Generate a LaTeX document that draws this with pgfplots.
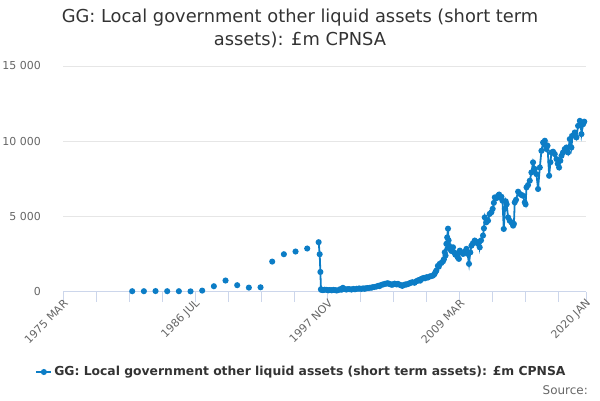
\documentclass[border=0pt]{standalone}
\usepackage{pgfplots}
\pgfplotsset{compat=1.18}
\usepackage{fontspec}
\setmainfont{DejaVu Sans}
\definecolor{series}{HTML}{0C7DC6}
\definecolor{axisc}{HTML}{CCD6EB}
\definecolor{gridc}{HTML}{E6E6E6}
\definecolor{labc}{HTML}{666666}
\definecolor{titc}{HTML}{333333}

\pgfplotstableread{
x y
1981.1 20
1981.5 nan
1982.1 20
1982.5 nan
1983.1 30
1983.5 nan
1984.1 20
1984.5 nan
1985.1 20
1985.5 nan
1986.1 10
1986.5 nan
1987.1 60
1987.5 nan
1988.1 350
1988.5 nan
1989.1 730
1989.5 nan
1990.1 420
1990.5 nan
1991.1 260
1991.5 nan
1992.1 280
1992.5 nan
1993.1 1990
1993.5 nan
1994.1 2480
1994.5 nan
1995.1 2660
1995.5 nan
1996.1 2860
1996.5 nan
1997.08 3280
1997.17 2480
1997.23 1300
1997.28 150
1997.31 110
1997.45 90
1997.6 120
1997.77 110
1997.9 80
1998.05 100
1998.2 80
1998.35 110
1998.5 90
1998.63 66
1998.8 100
1998.95 160
1999.05 120
1999.16 245
1999.3 170
1999.45 130
1999.6 160
1999.74 155
1999.9 130
2000.05 170
2000.2 150
2000.35 180
2000.5 190
2000.6 200
2000.75 170
2000.9 210
2001.03 180
2001.15 220
2001.3 230
2001.46 245
2001.6 260
2001.7 280
2001.85 300
2002.03 330
2002.2 380
2002.3 360
2002.46 440
2002.6 470
2002.74 500
2002.88 530
2003.02 550
2003.15 500
2003.25 480
2003.35 450
2003.45 465
2003.58 520
2003.68 500
2003.78 470
2003.88 510
2004.02 450
2004.17 400
2004.27 380
2004.37 430
2004.5 470
2004.6 465
2004.75 500
2004.88 550
2005.0 590
2005.14 620
2005.3 580
2005.46 685
2005.56 720
2005.66 760
2005.78 720
2005.89 840
2006.0 870
2006.09 900
2006.2 880
2006.32 950
2006.45 930
2006.6 1000
2006.75 1030
2006.88 1060
2007.0 1150
2007.1 1300
2007.17 1390
2007.3 1700
2007.38 1650
2007.46 1840
2007.6 1900
2007.74 2010
2007.82 2150
2007.89 2610
2007.96 2400
2008.03 3170
2008.1 3600
2008.17 4180
2008.22 3400
2008.26 3050
2008.32 2835
2008.45 2700
2008.6 2940
2008.7 2600
2008.8 2450
2008.89 2500
2009.0 2280
2009.1 2170
2009.18 2720
2009.3 2600
2009.46 2500
2009.6 2650
2009.75 2835
2009.85 2500
2009.97 1840
2010.08 2600
2010.18 3050
2010.3 3200
2010.46 3390
2010.6 3300
2010.74 3170
2010.85 3300
2010.89 2940
2011.0 3400
2011.17 3720
2011.25 4200
2011.32 4930
2011.45 4600
2011.6 4710
2011.74 5160
2011.89 5270
2012.0 5500
2012.1 5900
2012.18 6260
2012.3 6200
2012.46 6370
2012.55 6450
2012.61 6260
2012.75 6300
2012.84 6040
2012.95 4160
2013.05 5500
2013.12 6000
2013.2 5800
2013.32 4930
2013.46 4710
2013.6 4600
2013.75 4380
2013.82 4500
2013.89 5930
2014.0 6100
2014.18 6640
2014.32 6490
2014.47 6420
2014.6 6370
2014.75 5930
2014.82 5800
2014.9 6930
2015.03 7080
2015.18 7370
2015.32 7920
2015.46 8590
2015.61 8150
2015.75 7810
2015.89 6820
2016.04 8250
2016.18 9360
2016.32 9910
2016.47 10030
2016.55 9700
2016.61 9480
2016.7 9700
2016.84 7700
2016.95 8600
2017.04 9250
2017.18 9300
2017.32 9140
2017.47 8810
2017.58 8500
2017.69 8250
2017.8 8700
2017.9 9030
2018.03 9250
2018.18 9480
2018.33 9580
2018.46 9250
2018.61 10140
2018.75 9580
2018.84 10360
2019.04 10580
2019.18 10250
2019.32 11020
2019.47 11350
2019.55 11100
2019.61 10470
2019.75 11130
2019.85 11300
}\datatable

\begin{document}
\begin{tikzpicture}[x=1bp,y=1bp]
\useasboundingbox (0,0) rectangle (600,400);
\node[text=titc, font=\fontsize{17.9}{23}\selectfont, align=center] at (300,371.5)
  {GG: Local government other liquid assets (short term\\assets): £m CPNSA};
\begin{axis}[
  at={(63bp,108.5bp)}, anchor=south west,
  scale only axis, width=523bp, height=225.5bp,
  xmin=1975.1667, xmax=2020, ymin=0, ymax=15000,
  scaled y ticks=false,
  axis x line=bottom, axis y line=left,
  x axis line style={draw=axisc, line width=1bp, -},
  y axis line style={draw=none, -},
  ytick={0,5000,10000,15000},
  yticklabels={0,5 000,10 000,15 000},
  ymajorgrids, grid style={draw=gridc, line width=1bp},
  ytick style={draw=none},
  yticklabel style={font=\fontsize{11}{13}\selectfont, text=labc, inner sep=0pt, xshift=-12bp},
  xtick={1975.1667,1986.5,1997.8333,2009.1667,2020},
  xticklabels={1975 MAR,1986 JUL,1997 NOV,2009 MAR,2020 JAN},
  minor xtick={1978,1980.8333,1983.6667,1989.3333,1992.1667,1995,2000.6667,2003.5,2006.3333,2012,2014.8333,2017.6667},
  tick align=outside, major tick length=10bp, minor tick length=10bp,
  xtick style={draw=axisc, line width=1bp},
  minor x tick style={draw=axisc, line width=1bp},
  xticklabel style={font=\fontsize{11}{13}\selectfont, text=labc, inner sep=0pt, yshift=0bp, xshift=3bp, rotate=45, anchor=east},
  clip=false,
  unbounded coords=jump,
  legend style={at={(0.456,-0.357)}, anchor=center, draw=none, fill=none,
    font=\bfseries\fontsize{12.4}{15}\selectfont, text=titc},
  legend image code/.code={\draw[mark repeat=2,mark phase=2] plot coordinates {(0bp,0bp) (7.5bp,0bp) (15bp,0bp)};},
]
\addplot[color=series, line width=1.8bp, mark=*, mark size=2.1bp, mark options={fill=series, draw=none}] table[x=x,y=y] {\datatable};
\addlegendentry{GG: Local government other liquid assets (short term assets): £m CPNSA}
\end{axis}
\node[anchor=east, inner sep=0pt, text=labc, font=\fontsize{12}{14}\selectfont] at (588,10) {Source:};
\end{tikzpicture}
\end{document}
